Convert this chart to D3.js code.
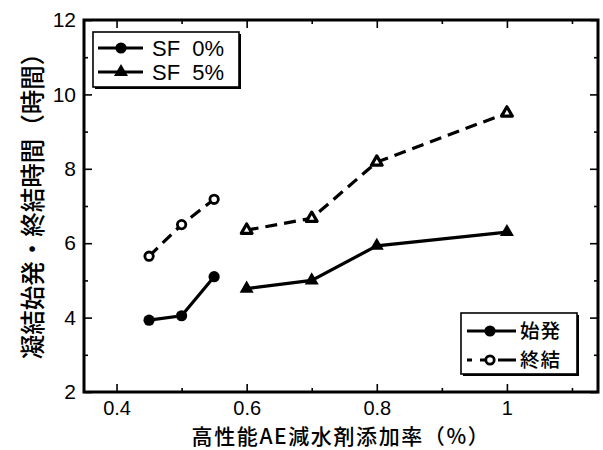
<!DOCTYPE html>
<html>
<head>
<meta charset="utf-8">
<script src="https://cdn.jsdelivr.net/npm/d3@7"></script>
<style>
  html, body { margin: 0; padding: 0; background: #fff; }
  svg { display: block; }
  .num { font-family: "Liberation Sans", Arial, Helvetica, sans-serif; }
  .jp { font-family: "Noto Sans CJK JP", "Noto Sans", sans-serif; font-weight: 500; }
</style>
</head>
<body>
<svg id="chart" width="603" height="450"></svg>
<script>
// Admixture dosage (%) for each mix
const dosageSF0 = [0.45, 0.5, 0.55];
const dosageSF5 = [0.6, 0.7, 0.8, 1.0];
// Setting times (hours)
const initialSF0 = [3.93, 4.05, 5.1];
const finalSF0   = [5.65, 6.5, 7.18];
const initialSF5 = [4.78, 5.0, 5.93, 6.3];
const finalSF5   = [6.35, 6.67, 8.18, 9.5];

const xMajor = [0.4, 0.6, 0.8, 1.0];
const xMinor = [0.5, 0.7, 0.9, 1.1];
const yMajor = [2, 4, 6, 8, 10, 12];
const yMinor = [3, 5, 7, 9, 11];

const xTitle = "高性能AE減水剤添加率（%）";
const yTitle = "凝結始発・終結時間（時間）";
const mixLabels = ["SF  0%", "SF  5%"];
const stageLabels = ["始発", "終結"];

const svg = d3.select("#chart");
const L = 84, R = 598, T = 20, B = 392;
const x = d3.scaleLinear().domain([0.35, 1.14]).range([L, R]);
const y = d3.scaleLinear().domain([2, 12]).range([B, T]);

// tick marks on all four sides, pointing inward
function ticks(axisFn, scale, vals, size, pos, labels) {
  const a = axisFn(scale).tickValues(vals).tickSize(size)
    .tickFormat(labels ? (d => d === 1 ? "1" : (Number.isInteger(d) ? d : d3.format(".1f")(d))) : "");
  const g = svg.append("g").attr("transform", pos).call(a);
  g.select(".domain").remove();
  g.selectAll(".tick line").attr("stroke", "#000").attr("stroke-width", 1.6);
  return g;
}
const gxb = ticks(d3.axisBottom, x, xMajor, -8, `translate(0,${B})`, true);
ticks(d3.axisBottom, x, xMinor, -4, `translate(0,${B})`, false);
ticks(d3.axisTop, x, xMajor, -8, `translate(0,${T})`, false);
ticks(d3.axisTop, x, xMinor, -4, `translate(0,${T})`, false);
const gyl = ticks(d3.axisLeft, y, yMajor, -8, `translate(${L},0)`, true);
ticks(d3.axisLeft, y, yMinor, -4, `translate(${L},0)`, false);
ticks(d3.axisRight, y, yMajor, -8, `translate(${R},0)`, false);
ticks(d3.axisRight, y, yMinor, -4, `translate(${R},0)`, false);

gxb.selectAll(".tick text").attr("class", "num").attr("font-size", 20)
  .attr("fill", "#000").attr("y", 0).attr("dy", null)
  .attr("transform", "translate(0,22.5)");
gyl.selectAll(".tick text").attr("class", "num").attr("font-size", 21)
  .attr("fill", "#000").attr("x", -8);

// plot frame
svg.append("rect").attr("x", L).attr("y", T).attr("width", R - L).attr("height", B - T)
  .attr("fill", "none").attr("stroke", "#000").attr("stroke-width", 3);

// axis titles
svg.append("text").attr("class", "jp").attr("x", 341).attr("y", 443.5)
  .attr("text-anchor", "middle").attr("font-size", 21)
  .attr("letter-spacing", 1.6).text(xTitle);
svg.append("text").attr("class", "jp")
  .attr("transform", `translate(42,200) rotate(-90)`)
  .attr("text-anchor", "middle").attr("font-size", 24.5).text(yTitle);

const line = d3.line().x(d => x(d[0])).y(d => y(d[1]));
const triFilled = d3.symbol().type(d3.symbolTriangle).size(85);
const triHollow = d3.symbol().type(d3.symbolTriangle).size(50);

function series(xs, ys, dashed, marker, hollow) {
  const pts = xs.map((v, i) => [v, ys[i]]);
  svg.append("path").datum(pts).attr("d", line).attr("fill", "none")
    .attr("stroke", "#000").attr("stroke-width", 3.2)
    .attr("stroke-dasharray", dashed ? "12,7" : null);
  const g = svg.append("g");
  pts.forEach(p => {
    if (marker === "circle") {
      g.append("circle").attr("cx", x(p[0])).attr("cy", y(p[1]))
        .attr("r", hollow ? 4.2 : 5.6)
        .attr("fill", hollow ? "#fff" : "#000")
        .attr("stroke", "#000").attr("stroke-width", hollow ? 2.8 : 0);
    } else {
      g.append("path").attr("d", hollow ? triHollow : triFilled)
        .attr("transform", `translate(${x(p[0])},${y(p[1])})`)
        .attr("fill", hollow ? "#fff" : "#000")
        .attr("stroke", "#000").attr("stroke-width", hollow ? 3.2 : 0)
        .attr("stroke-linejoin", "round");
    }
  });
}
series(dosageSF0, initialSF0, false, "circle", false);
series(dosageSF0, finalSF0, true, "circle", true);
series(dosageSF5, initialSF5, false, "tri", false);
series(dosageSF5, finalSF5, true, "tri", true);

// legend box with a slight shadow on the right and bottom edges
function legendBox(x0, y0, w, h) {
  svg.append("rect").attr("x", x0 + 2).attr("y", y0 + 2).attr("width", w).attr("height", h)
    .attr("fill", "#000");
  svg.append("rect").attr("x", x0).attr("y", y0).attr("width", w).attr("height", h)
    .attr("fill", "#fff").attr("stroke", "#000").attr("stroke-width", 1.6);
}
function legendLine(x1, x2, yy, dashed) {
  svg.append("line").attr("x1", x1).attr("x2", x2).attr("y1", yy).attr("y2", yy)
    .attr("stroke", "#000").attr("stroke-width", 3.2)
    .attr("stroke-dasharray", dashed ? "5,8,10,8,20" : null);
}

// mix legend (top left)
legendBox(93, 32, 146, 55);
[48, 72].forEach((yy, i) => {
  legendLine(98, 143, yy, false);
  if (i === 0) {
    svg.append("circle").attr("cx", 121).attr("cy", yy).attr("r", 5.6).attr("fill", "#000");
  } else {
    svg.append("path").attr("d", triFilled).attr("transform", `translate(121,${yy})`).attr("fill", "#000");
  }
  svg.append("text").attr("class", "num").attr("x", 152).attr("y", yy + 8)
    .attr("font-size", 22).attr("xml:space", "preserve").style("white-space", "pre")
    .text(mixLabels[i]);
});

// setting-stage legend (bottom right)
legendBox(461, 313, 116, 61);
[331, 360].forEach((yy, i) => {
  legendLine(467, 516, yy, i === 1);
  svg.append("circle").attr("cx", 490).attr("cy", yy)
    .attr("r", i === 0 ? 5.6 : 4.2)
    .attr("fill", i === 0 ? "#000" : "#fff")
    .attr("stroke", "#000").attr("stroke-width", i === 0 ? 0 : 2.8);
  svg.append("text").attr("class", "jp").attr("x", 520).attr("y", yy + 7)
    .attr("font-size", 19.5).attr("letter-spacing", 1).text(stageLabels[i]);
});
</script>
</body>
</html>
